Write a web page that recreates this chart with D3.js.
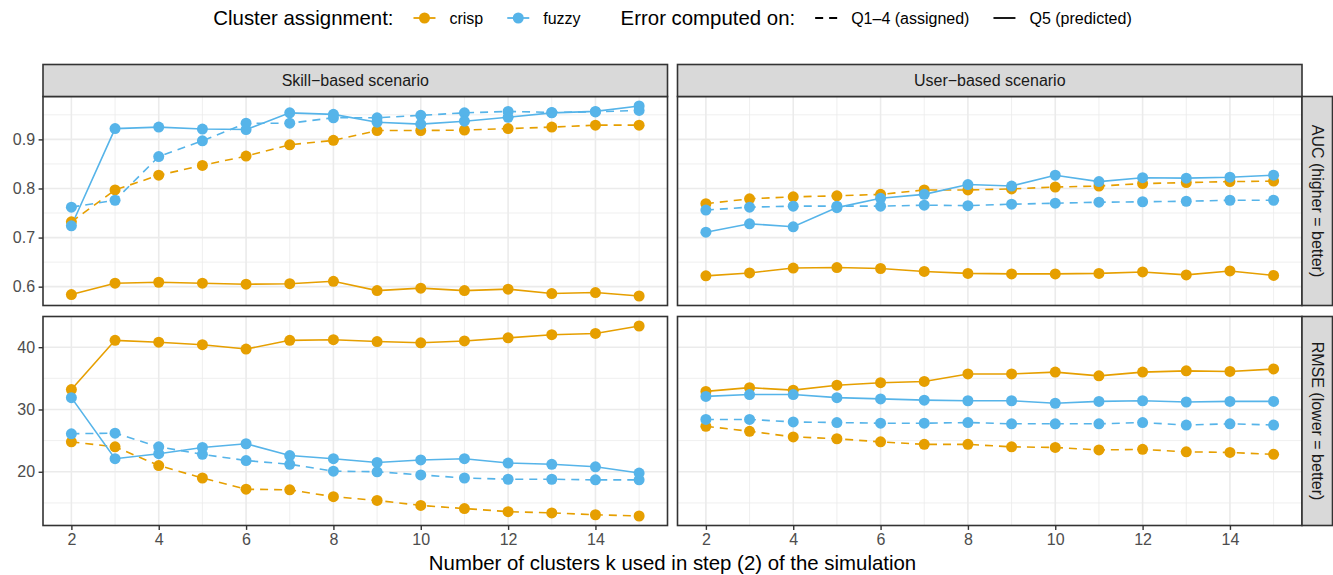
<!DOCTYPE html>
<html>
<head>
<meta charset="utf-8">
<script src="https://cdn.jsdelivr.net/npm/d3@7"></script>
<style>
  body { margin: 0; background: #fff; }
  svg { display: block; font-family: "Liberation Sans", Arial, sans-serif; }
</style>
</head>
<body>
<div id="chart"></div>
<script>
// data
const kValues = [2, 3, 4, 5, 6, 7, 8, 9, 10, 11, 12, 13, 14, 15];
const xTicks = [2, 4, 6, 8, 10, 12, 14];
const aucTicks = [0.6, 0.7, 0.8, 0.9];
const rmseTicks = [20, 30, 40];
const scenarios = ["Skill\u2212based scenario", "User\u2212based scenario"];
const metrics = ["AUC (higher = better)", "RMSE (lower = better)"];
const assignments = ["crisp", "fuzzy"];
const errorSets = ["Q1\u20134 (assigned)", "Q5 (predicted)"];

const skillAucCrispQ14 = [0.732, 0.797, 0.827, 0.847, 0.866, 0.889, 0.898, 0.918, 0.918, 0.919, 0.922, 0.925, 0.929, 0.929];
const skillAucCrispQ5 = [0.584, 0.607, 0.609, 0.607, 0.605, 0.606, 0.611, 0.592, 0.597, 0.592, 0.595, 0.586, 0.588, 0.581];
const skillAucFuzzyQ14 = [0.762, 0.776, 0.865, 0.897, 0.933, 0.933, 0.944, 0.944, 0.949, 0.954, 0.957, 0.955, 0.956, 0.959];
const skillAucFuzzyQ5 = [0.724, 0.922, 0.925, 0.921, 0.920, 0.954, 0.951, 0.935, 0.931, 0.937, 0.945, 0.954, 0.957, 0.968];

const userAucCrispQ14 = [0.769, 0.779, 0.783, 0.785, 0.788, 0.797, 0.797, 0.799, 0.803, 0.805, 0.810, 0.812, 0.814, 0.815];
const userAucCrispQ5 = [0.622, 0.628, 0.638, 0.639, 0.637, 0.631, 0.627, 0.626, 0.626, 0.627, 0.630, 0.624, 0.632, 0.623];
const userAucFuzzyQ14 = [0.756, 0.762, 0.764, 0.764, 0.764, 0.766, 0.765, 0.768, 0.770, 0.772, 0.773, 0.774, 0.776, 0.776];
const userAucFuzzyQ5 = [0.711, 0.728, 0.722, 0.761, 0.780, 0.788, 0.808, 0.805, 0.827, 0.814, 0.822, 0.821, 0.823, 0.827];

const skillRmseCrispQ14 = [24.8, 24.0, 21.0, 19.0, 17.2, 17.1, 16.0, 15.4, 14.6, 14.1, 13.6, 13.4, 13.1, 12.9];
const skillRmseCrispQ5 = [33.2, 41.1, 40.8, 40.4, 39.7, 41.1, 41.2, 40.9, 40.7, 41.0, 41.5, 42.0, 42.2, 43.4];
const skillRmseFuzzyQ14 = [26.1, 26.2, 24.0, 22.8, 21.8, 21.2, 20.1, 20.0, 19.5, 19.0, 18.8, 18.8, 18.7, 18.7];
const skillRmseFuzzyQ5 = [31.9, 22.1, 22.9, 23.9, 24.5, 22.6, 22.1, 21.5, 21.9, 22.1, 21.4, 21.2, 20.8, 19.8];

const userRmseCrispQ14 = [27.3, 26.5, 25.6, 25.3, 24.8, 24.4, 24.4, 24.0, 23.9, 23.5, 23.6, 23.2, 23.1, 22.8];
const userRmseCrispQ5 = [32.9, 33.5, 33.1, 33.9, 34.3, 34.5, 35.7, 35.7, 36.0, 35.4, 36.0, 36.2, 36.1, 36.5];
const userRmseFuzzyQ14 = [28.4, 28.4, 28.0, 27.9, 27.8, 27.8, 27.9, 27.7, 27.7, 27.7, 27.9, 27.5, 27.7, 27.5];
const userRmseFuzzyQ5 = [32.1, 32.4, 32.4, 31.9, 31.7, 31.5, 31.4, 31.4, 31.0, 31.3, 31.4, 31.2, 31.3, 31.3];

// panels: [row][col] -> list of series
const panelSeries = [
  [
    [skillAucCrispQ14, skillAucCrispQ5, skillAucFuzzyQ14, skillAucFuzzyQ5],
    [userAucCrispQ14, userAucCrispQ5, userAucFuzzyQ14, userAucFuzzyQ5]
  ],
  [
    [skillRmseCrispQ14, skillRmseCrispQ5, skillRmseFuzzyQ14, skillRmseFuzzyQ5],
    [userRmseCrispQ14, userRmseCrispQ5, userRmseFuzzyQ14, userRmseFuzzyQ5]
  ]
];
const seriesAssign = ["crisp", "crisp", "fuzzy", "fuzzy"];
const seriesError = [0, 1, 0, 1];
const rowTicks = [aucTicks, rmseTicks];

const colors = { crisp: "#E69F00", fuzzy: "#56B4E9" };
const dash = "8,6";
const tickFont = 16, titleFont = 20.4;

const width = 1333, height = 575;
const colX = [[43, 667.5], [677.5, 1302]];
const rowY = [[96.5, 305.5], [316.5, 525.5]];
const stripTop = 64.5, stripRight = 1332.5;

const svg = d3.select("#chart").append("svg")
  .attr("width", width).attr("height", height);

const x = d3.scaleLinear().domain([2 - 0.65, 15 + 0.65]);

function expand(ext) {
  const r = ext[1] - ext[0];
  return [ext[0] - 0.05 * r, ext[1] + 0.05 * r];
}

const line = d3.line();

for (let r = 0; r < 2; r++) {
  const all = panelSeries[r].flat(2);
  const y = d3.scaleLinear().domain(expand(d3.extent(all))).range([rowY[r][1], rowY[r][0]]);
  const yDom = y.domain();
  const step = rowTicks[r][1] - rowTicks[r][0];
  const minorY = d3.range(Math.ceil(yDom[0] / step * 2 - 1e-9), Math.floor(yDom[1] / step * 2 + 1e-9) + 1)
    .map(i => i * step / 2)
    .filter(v => !rowTicks[r].some(t => Math.abs(t - v) < 1e-9));

  for (let c = 0; c < 2; c++) {
    const xs = x.copy().range(colX[c]);
    const g = svg.append("g");
    const [x0, x1] = colX[c], [y0, y1] = rowY[r];

    g.append("rect").attr("x", x0).attr("y", y0).attr("width", x1 - x0).attr("height", y1 - y0)
      .attr("fill", "#fff");

    // minor grid
    const minorX = [3, 5, 7, 9, 11, 13, 15];
    g.selectAll(".mx").data(minorX).join("line")
      .attr("x1", d => xs(d)).attr("x2", d => xs(d)).attr("y1", y0).attr("y2", y1)
      .attr("stroke", "#EBEBEB").attr("stroke-width", 0.8);
    g.selectAll(".my").data(minorY).join("line")
      .attr("x1", x0).attr("x2", x1).attr("y1", d => y(d)).attr("y2", d => y(d))
      .attr("stroke", "#EBEBEB").attr("stroke-width", 0.8);
    // major grid
    g.selectAll(".gx").data(xTicks).join("line")
      .attr("x1", d => xs(d)).attr("x2", d => xs(d)).attr("y1", y0).attr("y2", y1)
      .attr("stroke", "#EBEBEB").attr("stroke-width", 1.6);
    g.selectAll(".gy").data(rowTicks[r]).join("line")
      .attr("x1", x0).attr("x2", x1).attr("y1", d => y(d)).attr("y2", d => y(d))
      .attr("stroke", "#EBEBEB").attr("stroke-width", 1.6);

    const series = panelSeries[r][c];
    // lines
    series.forEach((vals, i) => {
      g.append("path")
        .attr("d", line(kValues.map((k, j) => [xs(k), y(vals[j])])))
        .attr("fill", "none")
        .attr("stroke", colors[seriesAssign[i]])
        .attr("stroke-width", 1.6)
        .attr("stroke-dasharray", seriesError[i] === 0 ? dash : null);
    });
    // points
    series.forEach((vals, i) => {
      g.selectAll(null).data(vals).join("circle")
        .attr("cx", (d, j) => xs(kValues[j]))
        .attr("cy", d => y(d))
        .attr("r", 5.5)
        .attr("fill", colors[seriesAssign[i]]);
    });

    g.append("rect").attr("x", x0).attr("y", y0).attr("width", x1 - x0).attr("height", y1 - y0)
      .attr("fill", "none").attr("stroke", "#333333").attr("stroke-width", 1.6);

    // y axis on left column
    if (c === 0) {
      const ya = svg.append("g").attr("transform", `translate(${x0},0)`)
        .call(d3.axisLeft(y).tickValues(rowTicks[r]).tickSize(4.4).tickPadding(3.5)
          .tickFormat(d3.format(r === 0 ? ".1f" : "d")));
      ya.select(".domain").remove();
      ya.selectAll(".tick line").attr("stroke", "#333333").attr("stroke-width", 1.4);
      ya.selectAll(".tick text").attr("fill", "#4D4D4D").attr("font-size", tickFont)
        .attr("font-family", "Liberation Sans, Arial, sans-serif");
    }
    // x axis on bottom row
    if (r === 1) {
      const xa = svg.append("g").attr("transform", `translate(0,${y1})`)
        .call(d3.axisBottom(xs).tickValues(xTicks).tickSize(4.4).tickPadding(3.5));
      xa.select(".domain").remove();
      xa.selectAll(".tick line").attr("stroke", "#333333").attr("stroke-width", 1.4);
      xa.selectAll(".tick text").attr("fill", "#4D4D4D").attr("font-size", tickFont)
        .attr("font-family", "Liberation Sans, Arial, sans-serif");
    }
  }

  // right strip
  svg.append("rect").attr("x", colX[1][1]).attr("y", rowY[r][0])
    .attr("width", stripRight - colX[1][1]).attr("height", rowY[r][1] - rowY[r][0])
    .attr("fill", "#D9D9D9").attr("stroke", "#333333").attr("stroke-width", 1.6);
  const cx = (colX[1][1] + stripRight) / 2, cy = (rowY[r][0] + rowY[r][1]) / 2;
  svg.append("text").attr("transform", `translate(${cx},${cy}) rotate(90)`)
    .attr("text-anchor", "middle").attr("dy", "0.35em")
    .attr("font-size", tickFont).attr("fill", "#1A1A1A").text(metrics[r]);
}

// top strips
scenarios.forEach((s, c) => {
  svg.append("rect").attr("x", colX[c][0]).attr("y", stripTop)
    .attr("width", colX[c][1] - colX[c][0]).attr("height", rowY[0][0] - stripTop)
    .attr("fill", "#D9D9D9").attr("stroke", "#333333").attr("stroke-width", 1.6);
  svg.append("text").attr("x", (colX[c][0] + colX[c][1]) / 2).attr("y", (stripTop + rowY[0][0]) / 2)
    .attr("dy", "0.35em").attr("text-anchor", "middle")
    .attr("font-size", tickFont).attr("fill", "#1A1A1A").text(s);
});

// x axis title
svg.append("text").attr("x", (colX[0][0] + colX[1][1]) / 2).attr("y", 563)
  .attr("dy", "0.35em").attr("text-anchor", "middle")
  .attr("font-size", titleFont).attr("fill", "#000").text("Number of clusters k used in step (2) of the simulation");

// legend
const legend = svg.append("g");
const ly = 18;
let lx = 0;
const keyW = 34;
function addTitle(t) {
  const tx = legend.append("text").attr("x", lx).attr("y", ly).attr("dy", "0.35em")
    .attr("font-size", titleFont).attr("fill", "#000").text(t);
  lx += tx.node().getComputedTextLength() + 14;
}
function addItem(label, color, dashed, point) {
  legend.append("line").attr("x1", lx + 6).attr("x2", lx + keyW - 6).attr("y1", ly).attr("y2", ly)
    .attr("stroke", color).attr("stroke-width", 1.8)
    .attr("stroke-dasharray", dashed ? dash : null);
  if (point) legend.append("circle").attr("cx", lx + keyW / 2).attr("cy", ly).attr("r", 5.5).attr("fill", color);
  lx += keyW + 8;
  const tx = legend.append("text").attr("x", lx).attr("y", ly).attr("dy", "0.35em")
    .attr("font-size", tickFont).attr("fill", "#000").text(label);
  lx += tx.node().getComputedTextLength() + 18;
}
addTitle("Cluster assignment:");
assignments.forEach(a => addItem(a, colors[a], false, true));
lx += 22;
addTitle("Error computed on:");
errorSets.forEach((e, i) => addItem(e, "#000", i === 0, false));
lx -= 18;
legend.attr("transform", `translate(${(colX[0][0] + colX[1][1]) / 2 - lx / 2},0)`);
</script>
</body>
</html>
